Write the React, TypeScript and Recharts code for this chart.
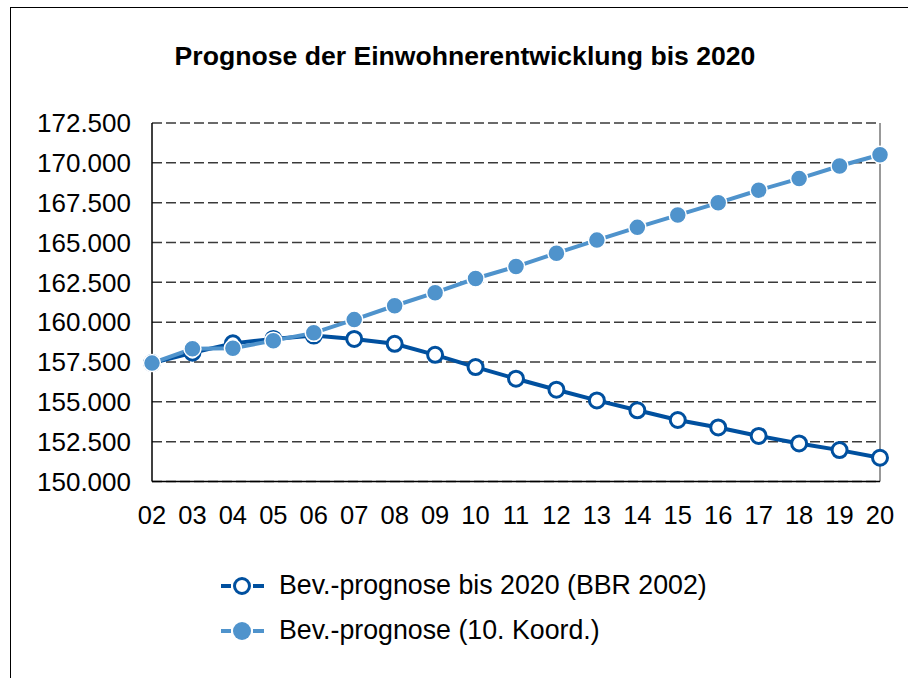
import { LineChart, Line, XAxis, YAxis, CartesianGrid, Legend, ReferenceLine } from "recharts";

// Jahre 2002 - 2020 (Achsenbeschriftung zweistellig)
const years = ["02", "03", "04", "05", "06", "07", "08", "09", "10", "11", "12", "13", "14", "15", "16", "17", "18", "19", "20"];

// Bev.-prognose bis 2020 (BBR 2002)
const bbrValues = [
  157430, 158080, 158670, 158950, 159160, 158950, 158640, 157950, 157180, 156450,
  155760, 155090, 154470, 153860, 153390, 152860, 152390, 151970, 151490,
];

// Bev.-prognose (10. Koord.)
const koordValues = [
  157430, 158330, 158360, 158840, 159330, 160160, 161030, 161850, 162740, 163490,
  164330, 165150, 165950, 166720, 167490, 168280, 169010, 169800, 170510,
];

const yTicks = [150000, 152500, 155000, 157500, 160000, 162500, 165000, 167500, 170000, 172500];

const seriesNames = ["Bev.-prognose bis 2020 (BBR 2002)", "Bev.-prognose (10. Koord.)"];

const DARK = "#00509F";
const LIGHT = "#4F93CC";
const FONT = "'Liberation Sans', Arial, sans-serif";

const data = years.map((year, i) => ({
  year,
  bbr: bbrValues[i],
  koord: koordValues[i],
}));

// 172500 -> "172.500"
const formatDe = (v: number) => String(v).replace(/\B(?=(\d{3})+(?!\d))/g, ".");

const LegendContent = () => (
  <div style={{ fontFamily: FONT, fontSize: 26.75, color: "#000" }}>
    {[
      { name: seriesNames[0], color: DARK, open: true },
      { name: seriesNames[1], color: LIGHT, open: false },
    ].map((item) => (
      <div key={item.name} style={{ display: "flex", alignItems: "center", height: 45 }}>
        <svg width={43} height={24} style={{ marginRight: 15 }}>
          <line x1={0} y1={12} x2={10} y2={12} stroke={item.color} strokeWidth={4} />
          <line x1={32} y1={12} x2={43} y2={12} stroke={item.color} strokeWidth={4} />
          {item.open ? (
            <circle cx={21} cy={12} r={7.5} fill="#fff" stroke={item.color} strokeWidth={3} />
          ) : (
            <circle cx={21} cy={12} r={9} fill={item.color} />
          )}
        </svg>
        <span>{item.name}</span>
      </div>
    ))}
  </div>
);

export default function App() {
  return (
    <div
      style={{
        position: "absolute",
        left: 0,
        top: 0,
        width: 908,
        height: 678,
        overflow: "hidden",
        background: "#fff",
        fontFamily: FONT,
      }}
    >
      {/* Rahmen des Diagrammbereichs */}
      <div
        style={{
          position: "absolute",
          left: 10,
          top: 7,
          width: 1000,
          height: 1000,
          borderTop: "1.5px solid #000",
          borderLeft: "1.5px solid #000",
        }}
      />
      <div
        style={{
          position: "absolute",
          left: 465,
          top: 41,
          transform: "translateX(-50%)",
          whiteSpace: "nowrap",
          fontSize: 26.6,
          fontWeight: "bold",
          color: "#000",
        }}
      >
        Prognose der Einwohnerentwicklung bis 2020
      </div>
      <LineChart
        width={908}
        height={678}
        data={data}
        margin={{ top: 123, right: 28, bottom: 156.5, left: 12 }}
        style={{ position: "absolute", left: 0, top: 0 }}
      >
        <CartesianGrid vertical={false} stroke="#3a3a3a" strokeWidth={1.5} strokeDasharray="10 4" />
        <XAxis
          dataKey="year"
          height={40}
          interval={0}
          axisLine={{ stroke: "#000", strokeWidth: 1.5 }}
          tickLine={false}
          tickSize={0}
          tickMargin={24}
          tick={{ fill: "#000", fontSize: 25.5, fontFamily: FONT }}
        />
        <YAxis
          width={140}
          domain={[150000, 172500]}
          ticks={yTicks}
          interval={0}
          tickFormatter={formatDe}
          axisLine={{ stroke: "#000", strokeWidth: 1.5 }}
          tickLine={false}
          tickSize={0}
          tickMargin={21}
          tick={{ fill: "#000", fontSize: 26, fontFamily: FONT }}
        />
        <ReferenceLine x="20" stroke="#777" strokeWidth={1.5} />
        <Legend
          layout="horizontal"
          verticalAlign="middle"
          align="center"
          content={<LegendContent />}
          wrapperStyle={{ top: 563, left: 221, width: 540 }}
        />
        <Line
          dataKey="bbr"
          name={seriesNames[0]}
          stroke={DARK}
          strokeWidth={4}
          isAnimationActive={false}
          dot={{ r: 7.5, fill: "#fff", stroke: DARK, strokeWidth: 3 }}
          activeDot={false}
        />
        <Line
          dataKey="koord"
          name={seriesNames[1]}
          stroke={LIGHT}
          strokeWidth={4}
          isAnimationActive={false}
          dot={{ r: 8.5, fill: LIGHT, stroke: "#fff", strokeWidth: 1.5 }}
          activeDot={false}
        />
      </LineChart>
    </div>
  );
}
